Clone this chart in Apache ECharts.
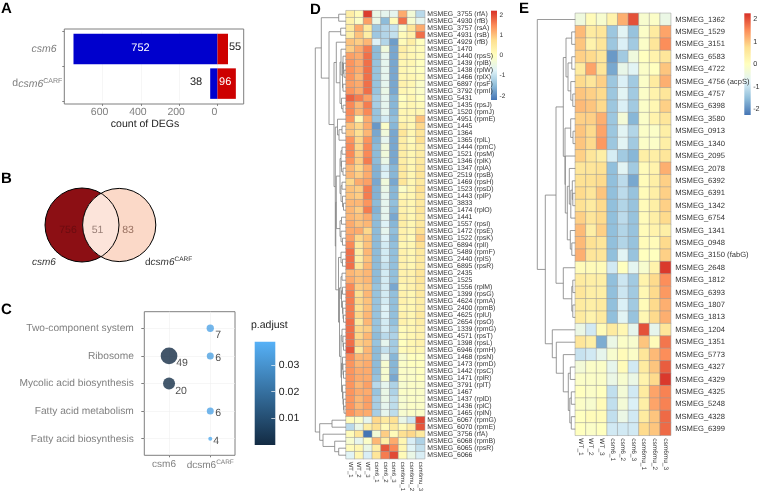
<!DOCTYPE html>
<html><head><meta charset="utf-8">
<style>html,body{margin:0;padding:0;background:#fff}#c{width:764px;height:491px}</style>
<script src="https://cdn.jsdelivr.net/npm/echarts@6/dist/echarts.min.js"></script>
</head><body><div id="c"></div>
<script>
// ---------- DATA ----------
const degDown=[752,38];
const degUp=[55,96];
const vennCounts=[756,51,83];
const pathways=['Two-component system','Ribosome','Mycolic acid biosynthesis','Fatty acid metabolism','Fatty acid biosynthesis'];
const dotGroup=[1,0,1,0,1,1];
const dotPath=[0,1,1,2,3,4];
const dotCount=[7,49,6,20,6,4];
const dotPadj=[0.035,0.0004,0.034,0.0012,0.035,0.037];
const padjTicks=[0.01,0.02,0.03];
const heatTicks=[-2,-1,0,1,2];
const dSamples=['WT_1','WT_2','WT_3','csm6_1','csm6_2','csm6_3','csm6mu_1','csm6mu_2','csm6mu_3'];
const eSamples=['WT_1','WT_2','WT_3','csm6_1','csm6_2','csm6_3','csm6mu_1','csm6mu_2','csm6mu_3'];
const dGenes=['MSMEG_3755 (rfA)','MSMEG_4930 (rfB)','MSMEG_3757 (rsA)','MSMEG_4931 (rsB)','MSMEG_4929 (rfB)','MSMEG_1470','MSMEG_1440 (rpsS)','MSMEG_1439 (rplB)','MSMEG_1438 (rplW)','MSMEG_1466 (rplX)','MSMEG_6897 (rpsF)','MSMEG_3792 (rpmI)','MSMEG_5431','MSMEG_1435 (rpsJ)','MSMEG_1520 (rpmJ)','MSMEG_4951 (rpmE)','MSMEG_1445','MSMEG_1364','MSMEG_1365 (rplL)','MSMEG_1444 (rpmC)','MSMEG_1521 (rpsM)','MSMEG_1346 (rplK)','MSMEG_1347 (rplA)','MSMEG_2519 (rpsB)','MSMEG_1469 (rpsH)','MSMEG_1523 (rpsD)','MSMEG_1443 (rplP)','MSMEG_3833','MSMEG_1474 (rplO)','MSMEG_1441','MSMEG_1557 (rpsI)','MSMEG_1472 (rpsE)','MSMEG_1522 (rpsK)','MSMEG_6894 (rplI)','MSMEG_5489 (rpmF)','MSMEG_2440 (rplS)','MSMEG_6895 (rpsR)','MSMEG_2435','MSMEG_1525','MSMEG_1556 (rplM)','MSMEG_1399 (rpsG)','MSMEG_4624 (rpmA)','MSMEG_2400 (rpmB)','MSMEG_4625 (rplU)','MSMEG_2654 (rpsO)','MSMEG_1339 (rpmG)','MSMEG_4571 (rpsT)','MSMEG_1398 (rpsL)','MSMEG_6946 (rpmH)','MSMEG_1468 (rpsN)','MSMEG_1473 (rpmD)','MSMEG_1442 (rpsC)','MSMEG_1471 (rplR)','MSMEG_3791 (rplT)','MSMEG_1467','MSMEG_1437 (rplD)','MSMEG_1436 (rplC)','MSMEG_1465 (rplN)','MSMEG_6067 (rpmG)','MSMEG_6070 (rpmE)','MSMEG_3756 (rfA)','MSMEG_6068 (rpmB)','MSMEG_6065 (rpsR)','MSMEG_6066'];
const dValues=[
[0.4,0.1,2.1,-0.5,-0.6,-0.6,1.2,-0.3,-1.1],
[0.3,-0.1,1.3,-0.5,-1.5,0.1,1.7,-0.2,-0.6],
[0.5,1.2,0.5,-1.35,-1.15,-1.0,-0.2,0.6,1.2],
[0.4,1.0,0.4,-1.35,-1.15,-1.0,0.1,0.3,1.7],
[1.0,0.9,1.1,-0.75,-1.15,-1.8,0.1,0.4,0.0],
[0.9,1.2,1.6,-1.5,-0.35,-1.7,0.4,0.2,0.1],
[1.3,1.2,1.7,-1.5,-0.6,-1.7,0.3,0.2,0.1],
[1.4,1.2,1.7,-1.4,-0.6,-1.7,0.2,0.2,0.0],
[1.4,1.2,1.7,-1.4,-0.6,-1.7,0.2,0.1,0.0],
[1.4,1.1,1.7,-1.4,-0.6,-1.7,0.2,0.2,0.1],
[1.3,1.2,1.7,-1.4,-0.6,-1.7,0.3,0.2,-0.1],
[1.4,1.2,1.7,-1.4,-0.5,-1.7,0.2,0.1,-0.1],
[1.8,1.6,1.3,-1.25,-0.6,-1.55,0.0,0.2,0.0],
[1.5,1.1,1.6,-1.25,-0.6,-1.55,0.1,0.2,0.1],
[1.5,1.1,1.5,-1.4,-0.6,-1.55,0.2,0.2,0.2],
[1.4,0.1,1.2,-1.4,-0.85,-1.45,0.2,0.2,1.0],
[1.0,0.8,1.2,-1.85,-0.1,-1.55,0.4,0.2,0.8],
[1.0,0.7,1.1,-1.7,-0.35,-1.7,0.6,0.2,0.6],
[1.4,0.8,1.4,-1.6,-0.6,-1.7,0.4,0.1,0.7],
[1.5,0.8,1.5,-1.5,-0.35,-1.7,0.4,0.2,0.4],
[1.5,0.9,1.5,-1.5,-0.35,-1.7,0.4,0.2,0.4],
[1.4,0.9,1.6,-1.5,-0.5,-1.7,0.4,0.2,0.5],
[1.1,0.8,1.2,-1.6,-0.85,-1.55,0.5,0.2,0.6],
[1.1,0.9,1.2,-1.6,-0.75,-1.55,0.5,0.2,0.6],
[0.8,1.2,1.3,-1.7,-0.35,-1.7,0.6,0.2,0.5],
[1.0,0.9,1.6,-1.6,-0.5,-1.55,-0.1,0.2,0.7],
[1.0,0.9,1.6,-1.6,-0.6,-1.55,0.2,0.2,0.6],
[1.1,1.1,1.4,-1.5,-0.6,-1.45,0.3,0.2,0.5],
[1.1,0.9,1.6,-1.6,-0.6,-1.55,0.3,0.2,0.6],
[1.1,1.0,1.2,-1.5,-0.6,-1.7,0.4,0.2,0.5],
[1.2,1.0,1.1,-1.5,-0.75,-1.55,0.4,0.2,0.5],
[1.2,1.2,0.8,-1.5,-0.6,-1.45,0.3,0.2,0.7],
[1.3,0.8,1.0,-1.5,-0.75,-1.55,0.3,0.1,0.9],
[1.5,0.5,1.0,-1.5,-0.85,-1.45,0.2,0.2,0.7],
[1.7,0.4,1.1,-1.5,-0.85,-1.45,0.3,0.2,0.5],
[1.7,0.4,1.0,-1.5,-0.85,-1.45,0.3,0.2,0.5],
[1.7,0.6,1.1,-1.5,-1.0,-1.45,0.3,0.2,0.5],
[1.1,1.0,1.1,-1.5,-0.85,-1.45,0.3,0.3,0.6],
[1.2,1.0,1.1,-1.5,-0.85,-1.45,0.3,0.3,0.6],
[1.5,0.9,1.0,-1.4,-0.85,-1.7,0.2,0.3,0.5],
[1.6,0.7,1.1,-1.4,-0.85,-1.45,0.3,0.2,0.5],
[1.6,0.8,1.0,-1.4,-0.85,-1.45,0.3,0.2,0.4],
[1.6,0.7,1.0,-1.4,-0.75,-1.45,0.2,0.2,0.4],
[1.6,0.8,1.1,-1.4,-0.75,-1.45,0.3,0.2,0.5],
[1.7,0.5,1.1,-1.4,-0.85,-1.45,0.3,0.2,0.4],
[1.7,0.8,0.9,-1.4,-0.85,-1.3,0.1,0.2,0.3],
[1.7,0.8,1.1,-1.5,-1.1,-1.2,0.1,0.2,0.3],
[1.7,0.9,1.0,-1.4,-0.6,-1.3,0.0,0.2,0.3],
[1.9,0.5,1.1,-1.5,-1.0,-1.3,0.1,0.2,0.2],
[1.5,1.1,1.1,-1.5,-0.6,-1.55,-0.2,0.0,0.0],
[1.4,1.1,1.2,-1.5,-0.2,-1.55,-0.1,0.0,0.0],
[1.4,1.2,1.2,-1.5,-0.2,-1.55,-0.1,-0.1,0.0],
[1.4,1.2,1.2,-1.4,-0.2,-1.7,-0.1,-0.1,0.0],
[1.4,1.1,1.3,-1.1,-0.6,-1.2,-0.2,-0.1,-0.1],
[1.4,1.2,1.2,-1.4,-0.5,-1.2,-0.1,-0.1,-0.1],
[1.4,1.1,1.3,-1.25,-0.5,-1.05,-0.2,-0.1,-0.1],
[1.4,1.1,1.3,-1.25,-0.6,-1.05,-0.2,-0.1,-0.1],
[1.4,1.2,1.2,-1.25,-0.6,-1.05,-0.2,-0.1,-0.1],
[0.1,-0.1,-0.6,0.8,0.5,0.7,-0.5,-0.9,2.0],
[-1.1,-0.5,0.4,0.7,0.1,0.5,0.1,0.4,1.9],
[0.1,0.6,-2.2,-0.3,0.9,0.1,0.7,0.8,0.5],
[-0.2,-0.6,-0.1,1.1,0.4,1.2,0.2,-0.8,-1.2],
[0.1,0.2,-0.5,0.4,1.9,1.5,0.2,-0.7,-1.0],
[-0.7,0.2,-0.8,0.6,1.6,2.0,0.1,-0.5,-0.8]
];
const eGenes=['MSMEG_1362','MSMEG_1529','MSMEG_3151','MSMEG_6583','MSMEG_4722','MSMEG_4756 (acpS)','MSMEG_4757','MSMEG_6398','MSMEG_3580','MSMEG_0913','MSMEG_1340','MSMEG_2095','MSMEG_2078','MSMEG_6392','MSMEG_6391','MSMEG_1342','MSMEG_6754','MSMEG_1341','MSMEG_0948','MSMEG_3150 (fabG)','MSMEG_2648','MSMEG_1812','MSMEG_6393','MSMEG_1807','MSMEG_1813','MSMEG_1204','MSMEG_1351','MSMEG_5773','MSMEG_4327','MSMEG_4329','MSMEG_4325','MSMEG_5248','MSMEG_4328','MSMEG_6399'];
const eValues=[
[-0.4,0.1,-0.2,0.3,1.2,2.0,-0.2,-0.1,-0.5],
[1.1,0.5,0.6,-1.4,-0.7,-1.45,-0.1,0.5,1.3],
[1.0,0.3,0.6,-1.4,-0.8,-1.35,-0.1,0.6,1.5],
[0.9,0.8,0.6,-1.9,-1.35,-0.4,0.0,0.3,0.6],
[0.5,1.3,0.6,-1.75,-0.55,-0.7,-0.1,0.0,1.0],
[0.8,0.6,0.9,-1.4,-0.8,-1.35,-0.1,0.5,1.2],
[1.0,0.9,0.8,-1.4,-0.7,-1.35,-0.1,0.3,0.6],
[1.1,1.0,0.8,-1.4,-0.8,-1.35,-0.1,0.2,0.9],
[0.9,0.9,1.2,-1.4,-0.3,-1.6,-0.1,0.3,0.6],
[1.0,0.8,1.3,-1.4,-0.7,-1.2,-0.1,-0.1,0.4],
[1.0,0.8,1.4,-1.4,-0.7,-1.35,-0.1,-0.1,0.4],
[0.9,0.6,0.4,-0.85,-1.35,-1.6,0.4,0.4,0.6],
[0.6,0.6,0.7,-1.5,-0.7,-1.35,0.1,0.3,1.2],
[0.7,0.7,0.8,-1.5,-1.1,-1.75,0.1,0.4,0.9],
[0.8,0.6,1.0,-1.5,-1.1,-1.45,0.1,0.4,0.9],
[0.7,0.5,0.8,-1.5,-1.2,-1.45,0.1,0.4,0.9],
[0.9,0.6,0.8,-1.5,-1.1,-1.45,0.1,0.4,0.8],
[1.1,0.4,0.9,-1.5,-1.2,-1.45,0.1,0.3,0.4],
[1.1,0.7,0.6,-1.5,-1.2,-1.45,0.1,0.1,0.8],
[1.2,0.6,0.6,-1.5,-0.7,-1.45,0.0,0.0,0.9],
[0.1,0.1,0.1,-0.9,0.0,-0.65,-0.2,0.3,2.2],
[0.5,0.4,0.4,-1.5,-0.95,-1.35,0.3,0.8,1.5],
[0.6,0.4,0.4,-1.5,-0.95,-1.35,0.2,0.8,1.4],
[0.5,0.4,0.5,-1.5,-0.8,-1.35,0.1,0.8,1.2],
[0.5,0.3,0.5,-1.5,-0.7,-1.45,0.2,0.8,1.2],
[-0.5,-0.9,0.1,0.5,0.2,-0.6,2.0,-0.6,0.6],
[0.6,0.4,-1.7,-0.5,-0.1,-0.2,1.0,0.1,1.7],
[-1.0,-0.9,-0.6,-0.2,0.1,-0.1,0.6,1.1,1.5],
[-0.3,-0.1,-0.1,-0.6,0.1,-0.9,0.5,1.0,1.9],
[-0.1,-0.1,-0.1,-0.5,-0.2,-0.5,0.3,0.8,2.2],
[0.0,-0.1,0.0,-1.05,-0.3,-0.9,0.5,1.3,1.6],
[-0.1,-0.2,0.1,-1.05,-0.3,-0.8,0.4,1.3,1.6],
[0.0,0.1,0.1,-1.05,-0.5,-0.9,0.5,1.0,1.8],
[0.0,-0.1,0.0,-0.9,-0.9,-0.9,0.8,1.0,1.8]
];
// dendrograms: [merge height, left child, right child]; integer children are row indices
const dTree=[30.7,
 [24.7,
  [7.3,0,1],
  [17,
   [5.3,2,3],
   [12,
    [9.7,4,[6,[5,5,[3.5,[3,6,[2.5,7,[2,8,9]]],[3,10,11]]],[4.5,12,[3,13,14]]]],
    [10.7,
     [8.5,15,[7,[4,16,17],18]],
     [10.2,
      [9.7,
       [6,[5,[4,19,20],[4.5,21,[3,22,23]]],[5,[4,24,25],[3.5,26,[2.5,27,28]]]],
       [6,[4.5,29,30],[5,31,[3.5,32,33]]]],
      [7.5,
       [5,34,[3.5,35,36]],
       [6.5,
        [5,[4,37,38],[4.5,[3.5,39,40],[3.5,41,[3,42,[2.5,43,44]]]]],
        [5,[4,45,[3,46,[2.5,47,48]]],[4.5,[3.5,49,[3,50,[2.5,51,52]]],[3.5,53,[3,54,[2.5,55,[2,56,57]]]]]]
       ]
      ]
     ]
    ]
   ]
  ]
 ],
 [26.3,[14,58,59],[23,60,[11.3,61,[7.3,62,63]]]]
];
const eTree=[38,0,
 [30,
  [19.3,
   [12,
    [9.3,[3.6,1,2],[7.3,[3.5,3,4],[4.5,5,[2.5,6,7]]]],
    [10.3,[4.6,8,[2.3,9,10]],[10,11,[8,[6,12,[4.5,[3,13,[2.5,14,15]],16]],[5,17,[3.5,18,19]]]]]],
   [12,20,[3.5,[2.5,21,22],[2.5,23,24]]]],
  [23,25,[19,26,[12,27,[7,[5,28,29],[5.5,[4,30,31],[4,32,33]]]]]]]
];

// ---------- LAYOUT ----------
// small labels: keep glyph advances unrounded so text widths scale with font size
const _gc=HTMLCanvasElement.prototype.getContext;
HTMLCanvasElement.prototype.getContext=function(){const c=_gc.apply(this,arguments);
 if(c&&arguments[0]==='2d'&&'textRendering' in c)c.textRendering='geometricPrecision';return c;};
const FONT='Liberation Sans';
const GREY='#7f7f7f';
const heatColors=['#4575B4','#91BFDB','#E0F3F8','#FFFFBF','#FEE090','#FC8D59','#D73027'];
const dotColors=['#132B43','#56B1F7'];
const sizeStops=[[4,4],[6,7],[7,7.3],[20,12],[49,16.7]];
const dotOffsets=[[8,7],[13,7],[8,2],[12,7.5],[8,2],[6,2]];
const sizeOf=c=>{const s=sizeStops.find(p=>p[0]===c);return s?s[1]:c;};
const D={l:346,t:10.7,w:78.7,h:448,dw:35,cb:{l:491,t:10.7,w:6,h:89.3,ext:2.2},font:6.9,xfont:6};
const E={l:575.3,t:13.3,w:95.4,h:422,dw:38,cb:{l:744.3,t:13.3,w:6.4,h:101.7,ext:2.27},font:7.6,xfont:6.5};

function segs(tree){const out=[];(function w(n){if(typeof n==='number')return [n,0];
 const a=w(n[1]),b=w(n[2]),h=n[0];
 out.push([h,a[0],h,b[0]],[h,a[0],a[1],a[0]],[h,b[0],b[1],b[0]]);
 return [(a[0]+b[0])/2,h];})(tree);return out;}
const cells=(vals)=>{const o=[];vals.forEach((r,i)=>r.forEach((v,j)=>o.push([j,i,v])));return o;};
const sup={a:{fontSize:10.5,color:GREY,fontStyle:'italic'},n:{fontSize:10.5,color:GREY},s:{fontSize:7,color:GREY,padding:[0,0,5,0]}};

const grids=[],xAxes=[],yAxes=[],series=[];
function addGrid(g,x,y){const i=grids.length;grids.push(Object.assign({outerBoundsMode:'none'},g));xAxes.push(Object.assign({gridIndex:i},x));yAxes.push(Object.assign({gridIndex:i},y));return i;}
const hiddenVal=(o)=>Object.assign({type:'value',show:false,splitLine:{show:false},axisLine:{show:false,onZero:false},axisTick:{show:false},axisLabel:{show:false}},o);

// A: bars
const gA=addGrid({left:64.3,top:31.7,width:179.4,height:69.2},
 {type:'value',min:-800,max:137,interval:200,offset:3,
  axisLine:{show:false,onZero:false},axisTick:{show:true,length:2,lineStyle:{color:GREY}},
  splitLine:{lineStyle:{color:'#f0f0f0',width:.6}},
  axisLabel:{color:GREY,fontSize:10.5,margin:3,padding:[0,6,0,0],showMinLabel:false,showMaxLabel:false,
    formatter:v=>(v<=0&&v>-800)?String(Math.abs(v)):''},
  name:'count of DEGs',nameLocation:'middle',nameGap:15,nameTextStyle:{color:'#222',fontSize:10.5,padding:[0,18,0,0]}},
 {type:'category',inverse:true,data:['csm6','dcsm6CARF'],
  axisLine:{show:false,onZero:false},axisTick:{show:true,length:2,lineStyle:{color:GREY}},splitLine:{show:false},
  axisLabel:{margin:2,rich:sup,overflow:'none',formatter:v=>v==='csm6'?'{a|csm6}{n|  }':'{n|d}{a|csm6}{s|CARF}'}});
series.push({type:'bar',name:'down',xAxisIndex:gA,yAxisIndex:gA,stack:'a',barWidth:30.5,itemStyle:{color:'#0000CD'},
 data:degDown.map((v,i)=>({value:-v,label:i===0?{show:true,position:'inside',color:'#fff',fontSize:11,offset:[-5,-1.5],formatter:String(v)}
   :{show:true,position:'left',distance:8,color:'#222',fontSize:11,offset:[0,-1.5],formatter:String(v)}}))});
series.push({type:'bar',name:'up',xAxisIndex:gA,yAxisIndex:gA,stack:'a',barWidth:30.5,itemStyle:{color:'#CD0000'},
 data:degUp.map((v,i)=>({value:v,label:i===0?{show:true,position:'right',distance:1,color:'#222',fontSize:11,offset:[0,-2.5],formatter:String(v)}
   :{show:true,position:'inside',color:'#fff',fontSize:11,offset:[-1.5,-1.5],formatter:String(v)}}))});

// C: dots
const gC=addGrid({show:true,left:144.3,top:311.7,width:90.7,height:143.6,borderColor:GREY,borderWidth:1,backgroundColor:'transparent'},
 {type:'value',min:-0.6,max:1.6,splitLine:{show:true,lineStyle:{color:'#f0f0f0',width:.6}},
  axisLine:{show:false,onZero:false},axisTick:{show:true,length:2,lineStyle:{color:GREY},customValues:[0,1]},
  axisLabel:{show:true,margin:4,customValues:[0,1],rich:{n:{fontSize:10,color:GREY},s:{fontSize:6.5,color:GREY,padding:[0,0,5,0]},p:{fontSize:10,color:GREY,padding:[0,10,0,0]}},
    formatter:v=>v===0?'{p|csm6}':'{n|dcsm6}{s|CARF}'}},
 {type:'value',inverse:true,min:-0.6,max:4.6,splitLine:{show:true,lineStyle:{color:'#f0f0f0',width:.6}},
  axisLine:{show:false,onZero:false},axisTick:{show:true,length:3,lineStyle:{color:GREY},customValues:[0,1,2,3,4]},
  axisLabel:{show:true,margin:10.5,color:GREY,fontSize:10.2,overflow:'none',customValues:[0,1,2,3,4],formatter:v=>pathways[v]||''}});
const sDot=series.length;
series.push({type:'scatter',xAxisIndex:gC,yAxisIndex:gC,z:4,
 symbolSize:d=>sizeOf(d[2]),
 data:dotGroup.map((g,i)=>({value:[g,dotPath[i],dotCount[i],dotPadj[i]],
   label:{show:true,position:'inside',offset:dotOffsets[i],color:'#222',fontSize:10.5,formatter:String(dotCount[i])}}))});

// D, E: heat + dendrogram + colour bar
function heat(P,genes,samples,vals,tree,mm){
 const g=addGrid({left:P.l,top:P.t,width:P.w,height:P.h},
  {type:'category',data:samples,z:20,axisLine:{show:false,onZero:false},axisTick:{show:false},splitLine:{show:false},
   axisLabel:{interval:0,rotate:-90,margin:3,fontSize:P.xfont,color:'#333',align:'left',verticalAlign:'middle'}},
  {type:'category',inverse:true,position:'right',z:20,data:genes,axisLine:{show:false,onZero:false},axisTick:{show:false},splitLine:{show:false},
   axisLabel:{interval:0,margin:mm,fontSize:P.font,color:'#333',align:'left'}});
 const idx=series.length;
 series.push({type:'heatmap',xAxisIndex:g,yAxisIndex:g,data:cells(vals),itemStyle:{borderColor:'#999',borderWidth:.5},emphasis:{disabled:true},progressive:0});
 const dg=addGrid({left:P.l-P.dw,top:P.t,width:P.dw,height:P.h},
  hiddenVal({min:0,max:P.dw,inverse:true}),hiddenVal({min:-0.5,max:genes.length-0.5,inverse:true}));
 series.push({type:'custom',xAxisIndex:dg,yAxisIndex:dg,clip:false,silent:true,data:segs(tree),
  renderItem:(p,api)=>{const a=api.coord([api.value(0),api.value(1)]),b=api.coord([api.value(2),api.value(3)]);
   return {type:'line',shape:{x1:a[0],y1:a[1],x2:b[0],y2:b[1]},style:{stroke:'#808080',lineWidth:.8}};}});
 const cb=P.cb;
 const cg=addGrid({left:cb.l,top:cb.t,width:cb.w,height:cb.h},hiddenVal({min:0,max:1}),
  {type:'value',position:'right',min:-cb.ext,max:cb.ext,splitLine:{show:false},axisLine:{show:false,onZero:false},axisTick:{show:false,customValues:heatTicks},
   axisLabel:{margin:2.5,fontSize:P.font-.4,color:'#333',customValues:heatTicks}});
 series.push({type:'custom',xAxisIndex:cg,yAxisIndex:cg,silent:true,data:[[0,-cb.ext,1,cb.ext]],renderItem:barRender(heatColors)});
 return idx;
}
function barRender(cols){return (p,api)=>{const a=api.coord([api.value(0),api.value(3)]),b=api.coord([api.value(2),api.value(1)]);
 return {type:'rect',shape:{x:a[0],y:a[1],width:b[0]-a[0],height:b[1]-a[1]},
  style:{fill:new echarts.graphic.LinearGradient(0,1,0,0,cols.map((c,i)=>({offset:i/(cols.length-1),color:c})))}};};}
const sD=heat(D,dGenes,dSamples,dValues,dTree,2.5);
const sE=heat(E,eGenes,eSamples,eValues,eTree,4.5);

// C colour bar
const padjMax=0.0387;
const gPB=addGrid({left:254.7,top:341.7,width:20.6,height:103.3},hiddenVal({min:0,max:1}),
 {type:'value',position:'right',min:0,max:padjMax,z:6,splitLine:{show:false},axisLine:{show:false,onZero:false},
  axisTick:{show:true,inside:true,length:4,lineStyle:{color:'#fff',width:.7},customValues:padjTicks},
  axisLabel:{margin:3.5,fontSize:10.5,color:'#222',customValues:padjTicks,formatter:v=>v.toFixed(2)}});
series.push({type:'custom',xAxisIndex:gPB,yAxisIndex:gPB,silent:true,z:1,data:[[0,0,1,padjMax]],renderItem:barRender(dotColors)});

// B: Venn on a full-page pixel grid
const gV=addGrid({left:0,top:0,width:764,height:491},hiddenVal({min:0,max:764}),hiddenVal({min:0,max:491,inverse:true}));
const vL=[82,225,37],vR=[119.2,225,36.6];
series.push({type:'custom',xAxisIndex:gV,yAxisIndex:gV,silent:true,clip:false,data:[[0]],
 renderItem:(p,api)=>{
  const cL=api.coord(vL),cR=api.coord(vR);
  const L={cx:cL[0],cy:cL[1],r:vL[2]},R={cx:cR[0],cy:cR[1],r:vR[2]};
  const txt=(x,y,t,c)=>({type:'text',style:{x,y,text:t,fill:c,fontSize:10.5,fontFamily:FONT,align:'center',verticalAlign:'middle'}});
  return {type:'group',children:[
   {type:'circle',shape:L,style:{fill:'#8C0F14',stroke:null}},
   {type:'circle',shape:R,style:{fill:'#FBD9C8',stroke:null}},
   {type:'circle',shape:L,style:{fill:'#FCE4DA',stroke:null},clipPath:{type:'circle',shape:R}},
   {type:'circle',shape:L,style:{fill:'none',stroke:'#000',lineWidth:1}},
   {type:'circle',shape:R,style:{fill:'none',stroke:'#000',lineWidth:1}},
   txt(68,230,String(vennCounts[0]),'#6A0C10'),
   txt(97.5,230,String(vennCounts[1]),'#9A8078'),
   txt(128,230,String(vennCounts[2]),'#9A7262')
  ]};
 }});

const letter=(t,x,y)=>({type:'text',x,y,style:{text:t,fontSize:15,fontWeight:'bold',fill:'#000',fontFamily:FONT}});
const plain=(t,x,y,st)=>({type:'text',x,y,style:Object.assign({text:t,fontSize:10,fill:'#222',fontFamily:FONT},st)});

const chart=echarts.init(document.getElementById('c'),null,{renderer:'canvas'});
chart.setOption({
 animation:false,backgroundColor:'#fff',
 textStyle:{fontFamily:FONT},
 tooltip:{show:false},
 grid:grids,xAxis:xAxes,yAxis:yAxes,series,
 visualMap:[
  {show:false,type:'continuous',seriesIndex:[sD],dimension:2,min:-D.cb.ext,max:D.cb.ext,inRange:{color:heatColors}},
  {show:false,type:'continuous',seriesIndex:[sE],dimension:2,min:-E.cb.ext,max:E.cb.ext,inRange:{color:heatColors}},
  {show:false,type:'continuous',seriesIndex:[sDot],dimension:3,min:0,max:padjMax,inRange:{color:dotColors}}
 ],
 graphic:{elements:[
  {type:'rect',shape:{x:64.3,y:29,width:179.4,height:75},style:{fill:'none',stroke:GREY,lineWidth:1},z:10},
  letter('A',1,1),letter('B',1,171),letter('C',1,302),letter('D',310,2),letter('E',519,1),
  plain('csm6',32,257,{fontStyle:'italic',fontSize:10,fill:'#333'}),
  {type:'text',x:145,y:256,style:{rich:{d:{fontSize:10,fill:'#333',fontFamily:FONT},i:{fontSize:10,fontStyle:'italic',fill:'#333',fontFamily:FONT},s:{fontSize:6.5,fill:'#333',padding:[0,0,5,0],fontFamily:FONT}},text:'{d|d}{i|csm6}{s|CARF}'}},
  plain('p.adjust',251,320,{fontSize:10.5})
 ]}
});
</script></body></html>
